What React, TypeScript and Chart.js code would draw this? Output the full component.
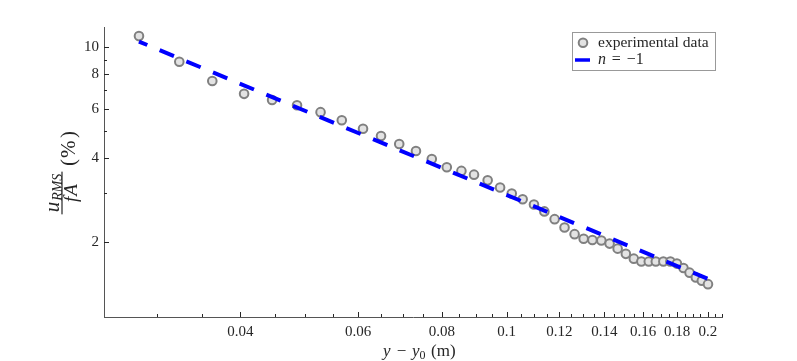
import React, { useEffect, useRef } from 'react';
import { Chart, registerables } from 'chart.js';

Chart.register(...registerables);

// ---- data ----
const xValues = [
  0.0282, 0.0324, 0.0363, 0.0405, 0.0446, 0.0486, 0.0527, 0.0567, 0.0610, 0.0649,
  0.0691, 0.0732, 0.0773, 0.0814, 0.0856, 0.0894, 0.0937, 0.0978, 0.1018, 0.1057,
  0.1099, 0.1139, 0.1180, 0.1221, 0.1264, 0.1304, 0.1344, 0.1386, 0.1426, 0.1466,
  0.1508, 0.1550, 0.1591, 0.1632, 0.1672, 0.1716, 0.1758, 0.1798, 0.1839, 0.1878,
  0.1919, 0.1959, 0.2001,
];
const yValues = [
  10.92, 8.84, 7.54, 6.78, 6.44, 6.17, 5.83, 5.45, 5.08, 4.79,
  4.48, 4.23, 3.96, 3.70, 3.59, 3.48, 3.32, 3.13, 2.98, 2.84,
  2.72, 2.57, 2.41, 2.25, 2.13, 2.05, 2.03, 2.02, 1.97, 1.89,
  1.81, 1.74, 1.70, 1.70, 1.70, 1.70, 1.70, 1.67, 1.61, 1.55,
  1.49, 1.45, 1.41,
];
// fitted power law n = -1 (end points)
const fitX = [0.0282, 0.2001];
const fitY = [10.44, 1.472];

const xMajorTicks = [0.04, 0.06, 0.08, 0.1, 0.12, 0.14, 0.16, 0.18, 0.2];
const xMinorTicks = [
  0.03, 0.035, 0.045, 0.05, 0.055, 0.065, 0.07, 0.075, 0.085, 0.09, 0.095,
  0.105, 0.11, 0.115, 0.125, 0.13, 0.135, 0.145, 0.15, 0.155, 0.165, 0.17,
  0.175, 0.185, 0.19, 0.195, 0.205, 0.21,
];
const yMajorTicks = [2, 4, 6, 8, 10];
const yMinorTicks = [3, 5, 7, 9];

const xRange = [0.025, 0.21];
const yRange = [1.075, 11.77];

const legendLabels = ['experimental data', 'n = −1'];

const FONT = "'Liberation Serif', 'Times New Roman', serif";
const TEXT = '#262626';
const MARK_FILL = '#e3e3e3';
const MARK_EDGE = '#808080';
const LINE_BLUE = '#0000ff';

const decorPlugin = {
  id: 'matlabDecor',
  afterDraw(chart: any) {
    const ctx: CanvasRenderingContext2D = chart.ctx;
    const { left, right, top, bottom } = chart.chartArea;
    const xs = chart.scales.x;
    const ys = chart.scales.y;
    ctx.save();
    ctx.strokeStyle = TEXT;
    ctx.lineWidth = 1;
    const seg = (x1: number, y1: number, x2: number, y2: number) => {
      ctx.beginPath();
      ctx.moveTo(x1, y1);
      ctx.lineTo(x2, y2);
      ctx.stroke();
    };
    xMajorTicks.forEach((v) => {
      const p = Math.round(xs.getPixelForValue(v)) + 0.5;
      seg(p, bottom, p, bottom - 5);
    });
    xMinorTicks.forEach((v) => {
      const p = Math.round(xs.getPixelForValue(v)) + 0.5;
      seg(p, bottom, p, bottom - 3);
    });
    yMajorTicks.forEach((v) => {
      const p = Math.round(ys.getPixelForValue(v)) + 0.5;
      seg(left, p, left + 5, p);
    });
    yMinorTicks.forEach((v) => {
      const p = Math.round(ys.getPixelForValue(v)) + 0.5;
      seg(left, p, left + 3, p);
    });

    // x axis title: y − y0 (m)
    ctx.fillStyle = TEXT;
    ctx.textBaseline = 'alphabetic';
    const cx = (left + right) / 2;
    const by = bottom + 38.5;
    ctx.textAlign = 'left';
    ctx.font = `italic 17px ${FONT}`;
    ctx.fillText('y', cx - 30, by);
    ctx.font = `17px ${FONT}`;
    ctx.textAlign = 'center';
    ctx.fillText('−', cx - 11.5, by);
    ctx.textAlign = 'left';
    ctx.font = `italic 17px ${FONT}`;
    ctx.fillText('y', cx - 1, by);
    ctx.font = `12px ${FONT}`;
    ctx.fillText('0', cx + 6.5, by + 3);
    ctx.font = `17px ${FONT}`;
    ctx.fillText('(m)', cx + 18, by);

    // y axis title: u_RMS / fA (%)
    ctx.save();
    ctx.translate(left - 42, (top + bottom) / 2);
    ctx.rotate(-Math.PI / 2);
    const uFont = `italic 21px ${FONT}`;
    const subFont = `italic 14px ${FONT}`;
    const denFont = `italic 19px ${FONT}`;
    ctx.font = uFont;
    const uW = ctx.measureText('u').width;
    ctx.font = subFont;
    const sW = ctx.measureText('RMS').width;
    const numW = uW + 1 + sW;
    ctx.font = denFont;
    const fW = ctx.measureText('f').width;
    const aW = ctx.measureText('A').width;
    const denW = fW + 1 + aW;
    const barW = Math.max(numW, denW) + 4;
    const fc = -21;
    ctx.textAlign = 'left';
    ctx.textBaseline = 'alphabetic';
    ctx.font = uFont;
    ctx.fillText('u', fc - numW / 2, -3.5);
    ctx.font = subFont;
    ctx.fillText('RMS', fc - numW / 2 + uW + 1, -0.5);
    ctx.font = denFont;
    ctx.fillText('f', fc - denW / 2, 15);
    ctx.fillText('A', fc - denW / 2 + fW + 1, 15);
    ctx.fillRect(fc - barW / 2, -0.6, barW, 1.2);
    ctx.font = `21px ${FONT}`;
    ctx.textBaseline = 'middle';
    ctx.fillText('(', 6, 7);
    ctx.fillText('%', 14, 7);
    ctx.fillText(')', 34, 7);
    ctx.restore();

    // legend
    const lx = right - 150.3;
    const ly = top + 4.7;
    const lw = 143.3;
    const lh = 37.6;
    ctx.fillStyle = '#ffffff';
    ctx.fillRect(lx, ly, lw, lh);
    ctx.strokeStyle = '#999999';
    ctx.lineWidth = 1;
    ctx.strokeRect(Math.round(lx) + 0.5, Math.round(ly) + 0.5, Math.round(lw), Math.round(lh));
    // marker
    ctx.beginPath();
    ctx.arc(lx + 11.3, ly + 11, 4.3, 0, Math.PI * 2);
    ctx.fillStyle = MARK_FILL;
    ctx.fill();
    ctx.lineWidth = 2;
    ctx.strokeStyle = MARK_EDGE;
    ctx.stroke();
    // line
    ctx.beginPath();
    ctx.moveTo(lx + 3.3, ly + 28.3);
    ctx.lineTo(lx + 18.3, ly + 28.3);
    ctx.lineWidth = 3.5;
    ctx.strokeStyle = LINE_BLUE;
    ctx.stroke();
    ctx.fillStyle = TEXT;
    ctx.textAlign = 'left';
    ctx.textBaseline = 'middle';
    ctx.font = `15.5px ${FONT}`;
    ctx.fillText(legendLabels[0], lx + 26.3, ly + 11);
    const parts = legendLabels[1].split(' = ');
    ctx.font = `italic 16px ${FONT}`;
    ctx.fillText(parts[0], lx + 26.3, ly + 28.3);
    ctx.font = `16px ${FONT}`;
    ctx.fillText('=', lx + 40, ly + 28.3);
    ctx.fillText(parts[1], lx + 55, ly + 28.3);
    ctx.restore();
  },
};

export default function App() {
  const ref = useRef<HTMLCanvasElement | null>(null);
  useEffect(() => {
    if (!ref.current) return;
    const scatterData = xValues.map((x, i) => ({ x, y: yValues[i] }));
    const fitData = fitX.map((x, i) => ({ x, y: fitY[i] }));
    const chart = new Chart(ref.current, {
      type: 'scatter',
      data: {
        datasets: [
          {
            type: 'line',
            label: legendLabels[1],
            data: fitData,
            borderColor: LINE_BLUE,
            borderWidth: 4,
            borderDash: [15.5, 13.4],
            borderDashOffset: 6.5,
            borderCapStyle: 'butt',
            pointRadius: 0,
            fill: false,
            showLine: true,
            order: 1,
          } as any,
          {
            type: 'scatter',
            label: legendLabels[0],
            data: scatterData,
            pointRadius: 4.3,
            pointBorderWidth: 2,
            pointBackgroundColor: MARK_FILL,
            pointBorderColor: MARK_EDGE,
            order: 2,
          } as any,
        ],
      },
      options: {
        responsive: false,
        animation: false,
        devicePixelRatio: 1,
        layout: { padding: { top: 27, right: 75, left: 0, bottom: 0 } },
        plugins: { legend: { display: false }, tooltip: { enabled: false } },
        scales: {
          x: {
            type: 'logarithmic',
            min: xRange[0],
            max: xRange[1],
            afterBuildTicks: (scale: any) => {
              scale.ticks = xMajorTicks.map((v) => ({ value: v }));
            },
            afterFit: (scale: any) => {
              scale.height = 44;
            },
            grid: { display: false, drawTicks: false },
            border: { display: true, color: '#555555', width: 1 },
            ticks: {
              autoSkip: false,
              maxRotation: 0,
              padding: 6,
              color: TEXT,
              font: { family: FONT, size: 15 },
              callback: (v: any) => String(v),
            },
          },
          y: {
            type: 'logarithmic',
            min: yRange[0],
            max: yRange[1],
            afterBuildTicks: (scale: any) => {
              scale.ticks = yMajorTicks.map((v) => ({ value: v }));
            },
            afterFit: (scale: any) => {
              scale.width = 104;
            },
            grid: { display: false, drawTicks: false },
            border: { display: true, color: '#555555', width: 1 },
            ticks: {
              autoSkip: false,
              padding: 5,
              color: TEXT,
              font: { family: FONT, size: 15 },
              callback: (v: any) => String(v),
            },
          },
        },
      },
      plugins: [decorPlugin],
    } as any);
    return () => chart.destroy();
  }, []);
  return (
    <div style={{ position: 'fixed', left: 0, top: 0, width: 797, height: 361, background: '#fff' }}>
      <canvas ref={ref} width={797} height={361} style={{ display: 'block' }} />
    </div>
  );
}
